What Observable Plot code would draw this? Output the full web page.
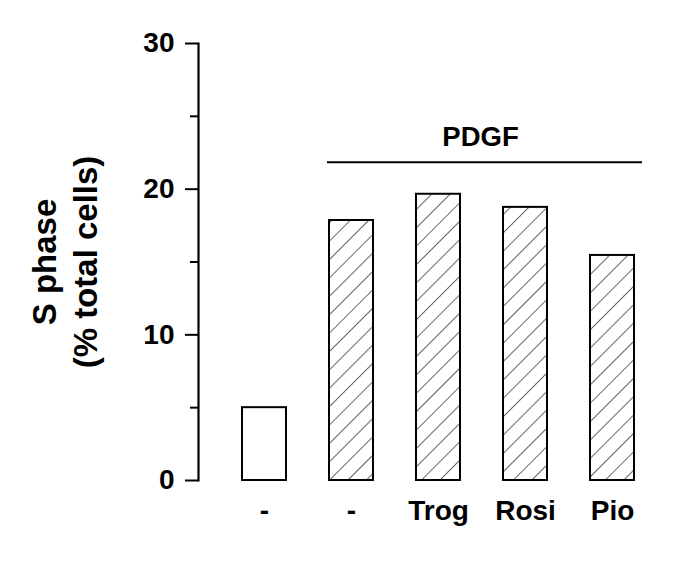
<!DOCTYPE html>
<html>
<head>
<meta charset="utf-8">
<script src="https://cdn.jsdelivr.net/npm/d3@7"></script>
<script src="https://cdn.jsdelivr.net/npm/@observablehq/plot@0.6"></script>
<style>
  html, body { margin: 0; padding: 0; background: #fff; }
  #chart svg { display: block; }
</style>
</head>
<body>
<div id="chart"></div>
<script>
// Data
const categories = ["ctrl", "PDGF", "Trog", "Rosi", "Pio"];
const tickLabels = ["-", "-", "Trog", "Rosi", "Pio"];
const values = [5.0, 17.85, 19.65, 18.75, 15.45];
const hatched = [false, true, true, true, true];
const majorTicks = [0, 10, 20, 30];
const minorTicks = [5, 15, 25];
const groupLabel = "PDGF";
const groupLevel = 21.85;
const yLabel = "S phase\n(% total cells)";

const rows = categories.map((c, i) => ({cat: c, value: values[i], hatched: hatched[i]}));
const labelOf = Object.fromEntries(categories.map((c, i) => [c, tickLabels[i]]));

const font = "Liberation Sans, Arial, Helvetica, sans-serif";

function defs() {
  const ns = "http://www.w3.org/2000/svg";
  const d = document.createElementNS(ns, "defs");
  const p = document.createElementNS(ns, "pattern");
  p.setAttribute("id", "hatch");
  p.setAttribute("patternUnits", "userSpaceOnUse");
  p.setAttribute("width", "13");
  p.setAttribute("height", "13");
  p.setAttribute("patternTransform", "rotate(45)");
  const r = document.createElementNS(ns, "rect");
  r.setAttribute("width", "13"); r.setAttribute("height", "13"); r.setAttribute("fill", "white");
  const l = document.createElementNS(ns, "line");
  l.setAttribute("x1", "0"); l.setAttribute("y1", "0");
  l.setAttribute("x2", "0"); l.setAttribute("y2", "13");
  l.setAttribute("stroke", "black"); l.setAttribute("stroke-width", "1.2");
  p.appendChild(r); p.appendChild(l); d.appendChild(p);
  return d;
}

const chart = Plot.plot({
  width: 685,
  height: 563,
  marginLeft: 198,
  marginRight: 7,
  marginTop: 43,
  marginBottom: 83,
  style: {fontFamily: font, color: "black", background: "white"},
  x: {domain: categories, paddingInner: 0.497, paddingOuter: 0.49, axis: null},
  y: {domain: [0, 30], axis: null},
  marks: [
    defs,
    Plot.barY(rows, {
      x: "cat", y: "value",
      fill: d => d.hatched ? "url(#hatch)" : "white",
      stroke: "black", strokeWidth: 2
    }),
    Plot.frame({anchor: "left", stroke: "black", strokeWidth: 2.2}),
    Plot.axisY({ticks: majorTicks, tickSize: 13, tickPadding: 11, strokeWidth: 2,
      fontSize: 28, fontWeight: "bold", fontFamily: font, fill: "black", label: null}),
    Plot.axisY({ticks: minorTicks, tickSize: 8, strokeWidth: 2, text: null, label: null}),
    Plot.axisX({tickSize: 0, tickPadding: 20, tickFormat: d => labelOf[d],
      fontSize: 28, fontWeight: "bold", fontFamily: font, fill: "black", label: null}),
    Plot.ruleY([groupLevel], {x1: () => "PDGF", x2: () => "Pio", stroke: "black", strokeWidth: 2,
      insetLeft: -2, insetRight: -8}),
    Plot.text([groupLabel], {x: () => "Trog", y: () => groupLevel, text: d => d, dx: 42, dy: -16,
      lineAnchor: "bottom", fontSize: 27.5, fontWeight: "bold", fontFamily: font, fill: "black"}),
    Plot.text([yLabel], {frameAnchor: "left", text: d => d, rotate: -90, dx: -135,
      textAnchor: "middle", lineAnchor: "middle", lineHeight: 1.25,
      fontSize: 33, fontWeight: "bold", fontFamily: font, fill: "black"})
  ]
});
document.getElementById("chart").appendChild(chart);
</script>
</body>
</html>
